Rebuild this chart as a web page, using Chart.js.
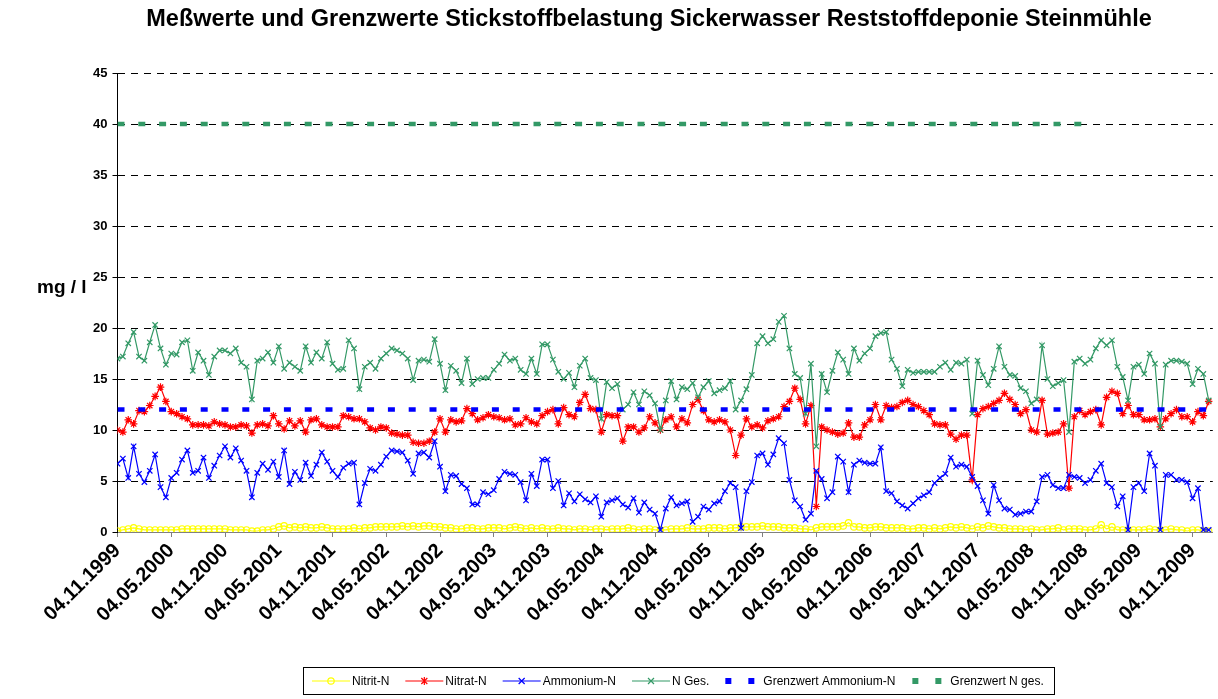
<!DOCTYPE html>
<html><head><meta charset="utf-8">
<script src="https://cdn.jsdelivr.net/npm/chart.js@4.4.0/dist/chart.umd.min.js"></script>
<style>html,body{margin:0;padding:0;background:#fff}canvas{display:block}</style>
</head><body>
<canvas id="c" width="1218" height="699"></canvas>
<script>
const chartTitle = 'Meßwerte und Grenzwerte Stickstoffbelastung Sickerwasser Reststoffdeponie Steinmühle';
const yTitle = 'mg / l';
const tickLabels = ['04.11.1999','04.05.2000','04.11.2000','04.05.2001','04.11.2001','04.05.2002','04.11.2002','04.05.2003','04.11.2003','04.05.2004','04.11.2004','04.05.2005','04.11.2005','04.05.2006','04.11.2006','04.05.2007','04.11.2007','04.05.2008','04.11.2008','04.05.2009','04.11.2009'];
const samplesPerTick = 10;

const nitritN = [
0.1,0.2,0.3,0.4,0.3,0.2,0.2,0.2,0.2,0.2,
0.2,0.2,0.3,0.3,0.3,0.3,0.3,0.3,0.3,0.3,
0.3,0.2,0.2,0.2,0.2,0.1,0.1,0.2,0.2,0.3,
0.5,0.6,0.4,0.5,0.4,0.5,0.4,0.4,0.5,0.4,
0.3,0.3,0.3,0.3,0.4,0.3,0.4,0.4,0.5,0.5,
0.5,0.5,0.5,0.6,0.5,0.6,0.5,0.6,0.6,0.5,
0.5,0.4,0.4,0.3,0.3,0.4,0.4,0.3,0.3,0.4,
0.4,0.4,0.3,0.4,0.5,0.4,0.3,0.4,0.3,0.4,
0.3,0.3,0.4,0.3,0.3,0.2,0.3,0.3,0.2,0.3,
0.3,0.2,0.3,0.3,0.3,0.4,0.3,0.2,0.3,0.3,
0.2,0.2,0.2,0.3,0.3,0.3,0.4,0.3,0.3,0.3,
0.4,0.4,0.4,0.3,0.4,0.4,0.5,0.5,0.5,0.5,
0.6,0.5,0.5,0.5,0.4,0.4,0.4,0.3,0.3,0.2,
0.4,0.5,0.5,0.5,0.5,0.6,0.9,0.5,0.5,0.4,
0.4,0.5,0.5,0.4,0.4,0.4,0.4,0.3,0.3,0.4,
0.4,0.3,0.4,0.3,0.4,0.5,0.4,0.5,0.4,0.3,
0.5,0.4,0.6,0.5,0.4,0.4,0.3,0.3,0.3,0.2,
0.3,0.2,0.2,0.3,0.3,0.4,0.2,0.3,0.3,0.3,
0.2,0.2,0.3,0.7,0.3,0.5,0.2,0.2,0.2,0.2,
0.2,0.2,0.3,0.2,0.2,0.2,0.3,0.2,0.2,0.1,
0.2,0.2,0.1,0.1];

const nitratN = [
10.0,9.8,11.0,10.6,11.9,11.8,12.4,13.3,14.2,12.8,
11.8,11.6,11.3,11.1,10.5,10.5,10.5,10.4,10.8,10.6,
10.5,10.3,10.3,10.5,10.4,9.7,10.5,10.6,10.4,11.4,
10.6,10.1,10.9,10.4,10.9,9.8,11.0,11.1,10.5,10.3,
10.3,10.3,11.4,11.3,11.1,11.1,10.8,10.2,10.0,10.3,
10.2,9.7,9.6,9.5,9.5,8.8,8.7,8.7,8.9,9.8,
11.1,9.8,11.0,10.8,10.9,12.1,11.6,11.0,11.2,11.5,
11.3,11.2,11.0,11.1,10.5,10.6,11.2,10.8,10.6,11.4,
11.8,12.0,10.6,12.2,11.5,11.3,12.7,13.5,12.1,12.0,
9.8,11.5,11.4,11.4,8.9,10.3,10.3,9.8,10.2,11.3,
10.7,10.0,11.0,11.3,10.3,11.1,10.7,12.5,13.0,11.9,
11.0,10.8,11.0,10.8,10.0,7.5,9.5,11.1,10.3,10.5,
10.2,10.9,11.1,11.3,12.3,12.8,14.1,13.0,10.6,12.4,
2.5,10.3,10.0,9.8,9.6,9.7,10.7,9.3,9.3,10.5,
11.0,12.5,11.0,12.4,12.2,12.3,12.7,12.9,12.5,12.3,
11.9,11.5,10.6,10.5,10.5,9.6,9.1,9.5,9.5,5.1,
11.5,12.1,12.3,12.6,12.9,13.6,13.0,12.5,11.6,12.0,
10.0,9.8,12.9,9.6,9.7,9.8,10.6,4.3,11.3,11.9,
11.5,11.8,12.0,10.5,13.2,13.8,13.6,11.6,12.4,11.5,
11.5,11.0,11.0,11.1,10.3,11.1,11.6,12.0,11.3,11.3,
10.8,11.8,11.4,12.8];

const ammoniumN = [
6.7,7.2,5.3,8.4,5.7,4.9,6.0,7.6,4.4,3.4,
5.3,5.8,7.1,8.0,5.8,6.0,7.3,5.3,6.5,7.5,
8.4,7.3,8.2,7.0,6.0,3.4,5.8,6.7,6.1,6.9,
5.4,8.0,4.7,5.9,5.1,6.8,5.5,6.6,7.8,6.9,
6.0,5.4,6.3,6.7,6.8,2.7,4.8,6.2,6.0,6.6,
7.4,8.0,7.9,7.8,7.0,5.7,7.7,7.8,7.3,8.9,
6.4,4.0,5.6,5.5,4.7,4.3,2.7,2.7,3.9,3.7,
4.1,5.2,5.9,5.7,5.6,4.9,3.1,5.7,4.5,7.1,
7.1,4.3,5.0,2.6,3.8,3.0,3.7,3.2,2.9,3.5,
1.5,2.9,3.1,3.3,2.7,2.4,3.3,1.9,2.9,2.2,
1.8,0.2,2.3,3.4,2.6,2.8,3.0,1.0,1.5,2.5,
2.2,2.8,3.0,4.0,4.8,4.4,0.4,4.0,4.9,7.5,
7.7,6.6,7.6,9.2,8.7,5.1,3.1,2.5,1.2,1.8,
6.0,5.2,3.3,3.9,7.4,6.9,3.9,6.6,7.0,6.8,
6.7,6.7,8.3,4.0,3.8,3.0,2.6,2.3,2.8,3.3,
3.6,3.9,4.8,5.3,5.7,7.3,6.4,6.6,6.4,5.4,
4.5,3.1,1.8,4.6,3.1,2.3,2.2,1.7,1.8,2.0,
2.0,3.0,5.4,5.6,4.6,4.3,4.3,5.6,5.4,5.3,
4.8,5.1,6.0,6.7,4.8,4.4,2.5,3.5,0.2,4.4,
4.8,4.0,7.7,6.5,0.2,5.6,5.6,5.1,5.1,4.9,
3.3,4.3,0.2,0.2];

const nGes = [
17.0,17.2,18.5,19.6,17.2,16.8,18.6,20.3,18.0,16.4,
17.5,17.4,18.6,18.8,15.8,17.6,16.8,15.4,17.2,17.8,
17.8,17.5,18.0,16.6,16.2,13.0,16.8,17.0,17.6,16.6,
18.2,16.0,16.6,16.2,15.8,18.2,16.6,17.6,17.0,18.6,
16.5,15.9,16.0,18.8,18.0,14.0,16.2,16.6,16.0,17.0,
17.5,18.0,17.8,17.5,17.0,14.9,16.8,16.9,16.7,18.9,
16.5,13.9,16.3,15.8,14.6,17.0,14.5,15.0,15.1,15.1,
15.9,16.5,17.4,16.8,17.0,15.9,15.5,17.0,15.5,18.4,
18.4,16.9,15.7,15.0,15.6,14.2,16.3,17.0,15.1,14.9,
11.1,14.7,14.1,14.5,12.0,12.5,13.7,12.5,13.8,13.4,
12.6,10.0,12.9,14.8,13.0,14.2,14.0,14.6,13.2,14.2,
14.8,13.6,13.9,14.1,14.8,12.0,12.9,14.0,15.4,18.5,
19.2,18.5,18.9,20.6,21.2,18.0,15.5,15.1,11.6,16.5,
8.4,15.5,13.7,15.8,17.6,16.9,15.5,18.0,16.8,17.5,
18.0,19.2,19.5,19.6,16.9,16.0,14.3,15.9,15.6,15.7,
15.7,15.7,15.7,16.2,16.6,15.9,16.6,16.5,16.9,11.6,
16.8,15.4,14.4,16.0,18.2,16.2,15.4,15.3,14.1,13.8,
12.6,13.0,18.3,15.0,14.3,14.6,14.9,9.8,16.7,17.0,
16.5,16.9,18.0,18.8,18.3,18.8,16.2,15.2,12.9,16.2,
16.4,15.5,17.5,16.5,10.3,16.4,16.8,16.8,16.7,16.5,
14.5,16.0,15.5,12.9];

const grenzwertAmmoniumN = 12;
const grenzwertAmmoniumNRange = [0, 203];
const grenzwertNges = 40;
const grenzwertNgesRange = [0, 181];

const seriesNames = ['Nitrit-N','Nitrat-N','Ammonium-N','N Ges.','Grenzwert Ammonium-N','Grenzwert N ges.'];
const seriesColors = ['#FFFF00','#FF0000','#0000FF','#339966','#0000FF','#339966'];

const FONT = "'Liberation Sans', Arial, Helvetica, sans-serif";
const toXY = arr => arr.map((v, i) => ({x: i, y: v}));
const limitXY = (v, r) => [{x: r[0], y: v}, {x: r[1], y: v}];

function drawMarker(ctx, style, x, y, r, color) {
  ctx.save();
  ctx.strokeStyle = color; ctx.lineWidth = 1.2; ctx.setLineDash([]);
  ctx.beginPath();
  if (style === 'circle') {
    ctx.arc(x, y, r * 0.8, 0, Math.PI * 2);
  } else if (style === 'crossRot') {
    const d = r * 0.75;
    ctx.moveTo(x - d, y - d); ctx.lineTo(x + d, y + d);
    ctx.moveTo(x + d, y - d); ctx.lineTo(x - d, y + d);
  } else if (style === 'star') {
    const d = r * 0.75;
    ctx.moveTo(x - d, y - d); ctx.lineTo(x + d, y + d);
    ctx.moveTo(x + d, y - d); ctx.lineTo(x - d, y + d);
    ctx.moveTo(x, y - r); ctx.lineTo(x, y + r);
  }
  ctx.stroke();
  ctx.restore();
}

const textPlugin = {
  id: 'textPlugin',
  afterDraw(chart) {
    const ctx = chart.ctx;
    ctx.save();
    ctx.fillStyle = '#000';
    ctx.font = `bold 23.5px ${FONT}`;
    ctx.textAlign = 'center'; ctx.textBaseline = 'middle';
    ctx.fillText(chartTitle, 649, 20);
    ctx.font = `bold 19px ${FONT}`;
    ctx.textAlign = 'left';
    ctx.fillText(yTitle, 37, 288);

    // legend
    const markers = ['circle','star','crossRot','crossRot', null, null];
    ctx.font = `12px ${FONT}`;
    ctx.textBaseline = 'middle';
    const ly = 681;
    let x = 312;
    let endX = x;
    seriesNames.forEach((name, i) => {
      const col = seriesColors[i];
      let tx;
      if (markers[i]) {
        ctx.save();
        ctx.strokeStyle = col; ctx.lineWidth = 1.2;
        ctx.beginPath(); ctx.moveTo(x, ly); ctx.lineTo(x + 38, ly); ctx.stroke();
        ctx.restore();
        drawMarker(ctx, markers[i], x + 19, ly, 4, col);
        tx = x + 40;
      } else {
        ctx.fillStyle = col;
        ctx.fillRect(x, ly - 3, 6, 6);
        ctx.fillRect(x + 23, ly - 3, 6, 6);
        tx = x + 38;
      }
      ctx.fillStyle = '#000';
      ctx.fillText(name, tx, ly + 0.5);
      const w = ctx.measureText(name).width;
      endX = tx + w;
      x = endX + (markers[i] ? 16 : 17);
    });
    ctx.strokeStyle = '#000'; ctx.lineWidth = 1;
    ctx.strokeRect(303.5, 667.5, Math.round(endX + 10) - 303, 27);
    ctx.restore();
  }
};

const mkSeries = (i, data, style, order) => ({
  label: seriesNames[i],
  data: toXY(data),
  borderColor: seriesColors[i],
  backgroundColor: 'rgba(0,0,0,0)',
  borderWidth: 1.2,
  pointStyle: style,
  pointRadius: style === 'circle' ? 3.2 : 3.8,
  pointBorderColor: seriesColors[i],
  pointBackgroundColor: 'rgba(255,255,255,0)',
  pointBorderWidth: 1.2,
  tension: 0,
  order: order
});

const datasets = [
  mkSeries(0, nitritN, 'circle', 5),
  mkSeries(1, nitratN, 'star', 4),
  mkSeries(2, ammoniumN, 'crossRot', 3),
  mkSeries(3, nGes, 'crossRot', 2),
  {label: seriesNames[4], data: limitXY(grenzwertAmmoniumN, grenzwertAmmoniumNRange), borderColor: seriesColors[4], borderWidth: 4.5, borderDash: [7, 13.8], borderCapStyle: 'butt', pointRadius: 0, order: 1},
  {label: seriesNames[5], data: limitXY(grenzwertNges, grenzwertNgesRange), borderColor: seriesColors[5], borderWidth: 4.5, borderDash: [7, 13.8], borderCapStyle: 'butt', pointRadius: 0, order: 0}
];

new Chart(document.getElementById('c'), {
  type: 'line',
  data: {datasets},
  options: {
    responsive: false,
    animation: false,
    devicePixelRatio: 1,
    layout: {padding: {top: 73, right: 1, bottom: 0, left: 0}},
    plugins: {legend: {display: false}, title: {display: false}, tooltip: {enabled: false}},
    scales: {
      x: {
        type: 'linear',
        min: 0,
        max: (1217 - 117.5) / ((1196.7 - 117.5) / 200),
        afterFit(scale) { scale.height = 699 - 532; },
        afterBuildTicks(scale) { scale.ticks = tickLabels.map((_, k) => ({value: k * samplesPerTick})); },
        grid: {display: true, drawOnChartArea: false, drawTicks: true, tickLength: 5, tickColor: '#808080', color: '#808080'},
        border: {display: true, color: '#808080', width: 1},
        ticks: {
          autoSkip: false, maxRotation: 45, minRotation: 45, padding: 2,
          color: '#000', font: {family: FONT, size: 20, weight: 'bold'},
          callback: (v) => tickLabels[Math.round(v / samplesPerTick)]
        }
      },
      y: {
        min: 0, max: 45,
        afterFit(scale) { scale.width = 117.5; },
        grid: {
          color: (c) => c.tick && c.tick.value === 0 ? 'rgba(0,0,0,0)' : '#000',
          tickColor: '#000', tickLength: 5, drawTicks: true, lineWidth: 1
        },
        border: {display: true, color: '#000', width: 1, dash: [7, 6]},
        ticks: {stepSize: 5, padding: 5, color: '#000', font: {family: FONT, size: 13, weight: 'bold'}}
      }
    }
  },
  plugins: [textPlugin]
});
</script>
</body></html>
